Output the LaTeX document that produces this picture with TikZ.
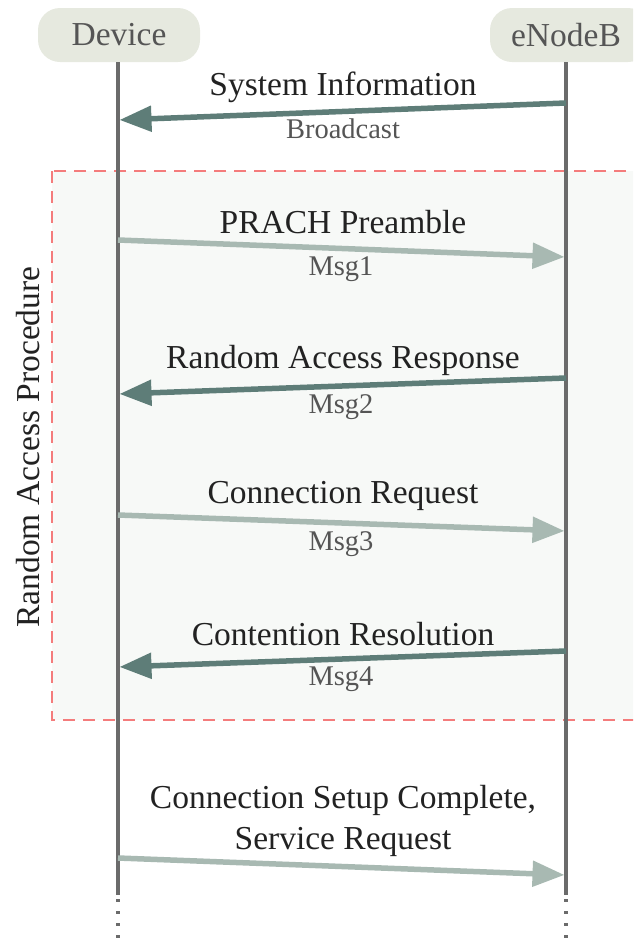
\documentclass[tikz,border=0pt]{standalone}
\usepackage{fontspec}
\setmainfont{Liberation Serif}
\usetikzlibrary{arrows.meta}
\definecolor{lifec}{HTML}{6B6B6B}
\definecolor{darkarr}{HTML}{5E7D78}
\definecolor{lightarr}{HTML}{A8B9B2}
\definecolor{headfill}{HTML}{E6E9DF}
\definecolor{headtxt}{HTML}{555555}
\definecolor{maintxt}{HTML}{222222}
\definecolor{smalltxt}{HTML}{555555}
\definecolor{dashred}{HTML}{F47C7C}
\definecolor{boxfill}{HTML}{F7F9F7}
\tikzset{
  header/.style={fill=headfill, rounded corners=22pt, minimum width=162pt, minimum height=54pt, inner sep=0pt, text=headtxt, font=\fontsize{33.5}{38}\selectfont},
  lifeline/.style={draw=lifec, line width=3.5pt},
  dotline/.style={draw=lifec, line width=3.5pt, dash pattern=on 3pt off 9pt},
  darkmsg/.style={draw=darkarr, line width=5.5pt, -{Triangle[length=32pt,width=25pt]}, shorten >=1.5pt},
  lightmsg/.style={draw=lightarr, line width=5.5pt, -{Triangle[length=32pt,width=25pt]}, shorten >=1.5pt},
  mainlbl/.style={text=maintxt, font=\fontsize{33.5}{41}\selectfont, inner sep=0pt, align=center},
  smalllbl/.style={text=smalltxt, font=\fontsize{28.5}{32}\selectfont, inner sep=0pt},
  procbox/.style={draw=dashred, fill=boxfill, line width=1.5pt, dash pattern=on 12pt off 8pt}
}
\begin{document}
\begin{tikzpicture}[x=1pt,y=-1pt]
\useasboundingbox (0,0) rectangle (633,940);
\clip (0,0) rectangle (633,940);
% procedure box
\path[procbox] (52,171) rectangle (660,720);
\node[rotate=90, text=maintxt, font=\fontsize{33.5}{38}\selectfont, inner sep=0pt] (proc) at (28,447) {Random Access Procedure};
% headers
\node[header] (dev) at (119,35) {Device};
\node[header, minimum width=160pt] (enb) at (570,35) {\hspace*{-8pt}eNodeB};
% lifeline coordinates
\coordinate (d0) at (118,62);
\coordinate (d1) at (118,895);
\coordinate (d2) at (118,940);
\coordinate (e0) at (566,62);
\coordinate (e1) at (566,895);
\coordinate (e2) at (566,940);
\draw[lifeline] (d0) -- (d1);
\draw[lifeline] (e0) -- (e1);
\draw[dotline] ([yshift=8pt]d1) -- (d2);
\draw[dotline] ([yshift=8pt]e1) -- (e2);
% message endpoints
\coordinate (m0s) at (566,103); \coordinate (m0e) at (118,120);
\coordinate (m1s) at (118,240); \coordinate (m1e) at (566,257);
\coordinate (m2s) at (566,378); \coordinate (m2e) at (118,394);
\coordinate (m3s) at (118,515); \coordinate (m3e) at (566,531);
\coordinate (m4s) at (566,651); \coordinate (m4e) at (118,667);
\coordinate (m5s) at (118,858); \coordinate (m5e) at (566,875);
% messages
\draw[darkmsg] (m0s) -- (m0e);
\node[mainlbl] (l0) at (343,87) {System Information};
\node[smalllbl] (s0) at (343,129) {Broadcast};
\draw[lightmsg] (m1s) -- (m1e);
\node[mainlbl] (l1) at (343,222) {PRACH Preamble};
\node[smalllbl] (s1) at (341,269) {Msg1};
\draw[darkmsg] (m2s) -- (m2e);
\node[mainlbl] (l2) at (343,360) {Random Access Response};
\node[smalllbl] (s2) at (341,407) {Msg2};
\draw[lightmsg] (m3s) -- (m3e);
\node[mainlbl] (l3) at (343,496) {Connection Request};
\node[smalllbl] (s3) at (341,544) {Msg3};
\draw[darkmsg] (m4s) -- (m4e);
\node[mainlbl] (l4) at (343,634) {Contention Resolution};
\node[smalllbl] (s4) at (341,679) {Msg4};
\draw[lightmsg] (m5s) -- (m5e);
\node[mainlbl] (l5) at (343,821) {Connection Setup Complete,\\Service Request};
\end{tikzpicture}
\end{document}
